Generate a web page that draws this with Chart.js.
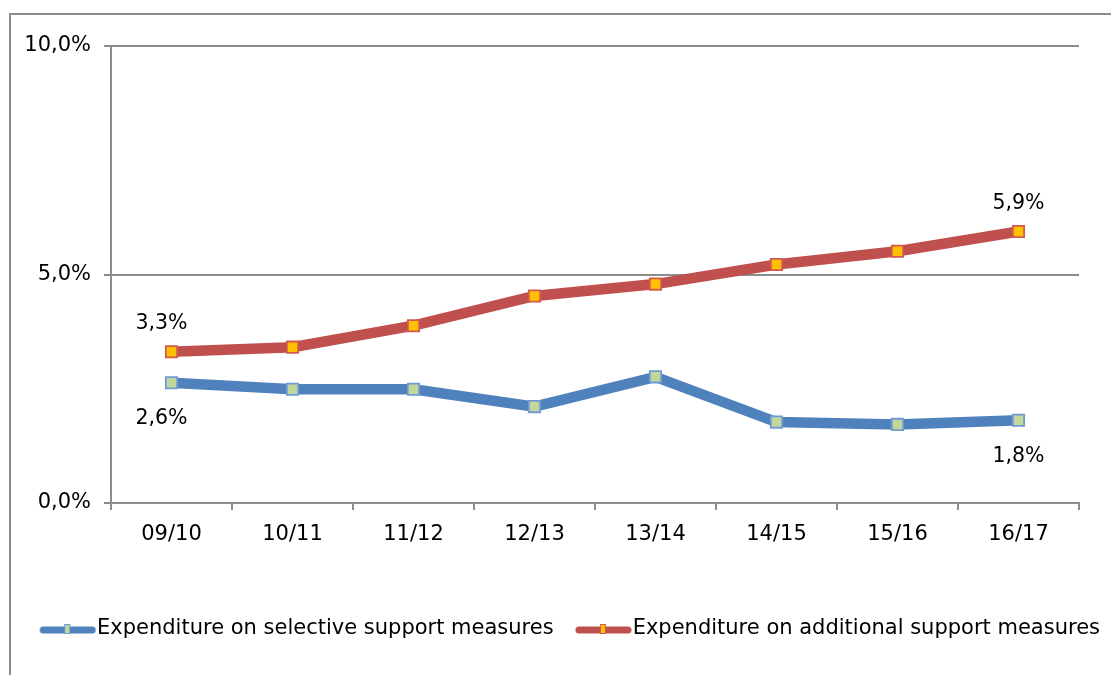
<!DOCTYPE html>
<html>
<head>
<meta charset="utf-8">
<script src="https://cdn.jsdelivr.net/npm/chart.js@4.4.0/dist/chart.umd.min.js"></script>
<style>
  html, body { margin: 0; padding: 0; background: #fff; }
  #frame {
    position: absolute; left: 9px; top: 13px; width: 1200px; height: 800px;
    border-left: 2px solid #8c8c8c; border-top: 2px solid #8c8c8c;
  }
  #wrap { position: absolute; left: 0; top: 0; width: 1111px; height: 675px; }
</style>
</head>
<body>
<div id="frame"></div>
<div id="wrap"><canvas id="chart" width="1111" height="675"></canvas></div>
<script>
const years = ["09/10", "10/11", "11/12", "12/13", "13/14", "14/15", "15/16", "16/17"];
const selective = [2.63, 2.49, 2.49, 2.11, 2.76, 1.77, 1.72, 1.81];
const additional = [3.31, 3.41, 3.88, 4.53, 4.79, 5.22, 5.51, 5.94];
const yTicks = [0, 5, 10];

const seriesNames = ["Expenditure on selective support measures", "Expenditure on additional support measures"];
const blue = "#4f81bd";
const red = "#c0504d";
const gridGray = "#8c8c8c";
const fontFamily = "'DejaVu Sans', Verdana, sans-serif";

const pct = v => v.toFixed(1).replace(".", ",") + "%";

// legend symbol: thick line with a small marker, drawn in the right part of the image
function legendIcon(lineColor, fillColor, borderColor) {
  const c = document.createElement("canvas");
  c.width = 82;
  c.height = 14;
  const g = c.getContext("2d");
  g.strokeStyle = lineColor;
  g.lineWidth = 7;
  g.lineCap = "round";
  g.beginPath();
  g.moveTo(29, 8);
  g.lineTo(78, 8);
  g.stroke();
  g.fillStyle = fillColor;
  g.strokeStyle = borderColor;
  g.lineWidth = 1;
  g.fillRect(50, 2, 6, 10);
  g.strokeRect(50.5, 2.5, 5, 9);
  return c;
}

const icons = [
  legendIcon(blue, "#c3d69b", "#6f9ad3"),
  legendIcon(red, "#ffc000", "#d2594f")
];

// value labels on first and last points
const endLabels = {
  id: "endLabels",
  afterDatasetsDraw(chart) {
    const ctx = chart.ctx;
    ctx.save();
    ctx.font = "20.5px " + fontFamily;
    ctx.fillStyle = "#000";
    ctx.textAlign = "center";
    ctx.textBaseline = "middle";
    chart.data.datasets.forEach((ds, i) => {
      const meta = chart.getDatasetMeta(i);
      const above = i === 1;
      [0, ds.data.length - 1].forEach(idx => {
        const pt = meta.data[idx];
        const dx = idx === 0 ? -10 : 0;
        const dy = above ? -28 : 36;
        ctx.fillText(pct(ds.data[idx]), pt.x + dx, pt.y + dy);
      });
    });
    ctx.restore();
  }
};

const ctx = document.getElementById("chart").getContext("2d");
new Chart(ctx, {
  type: "line",
  data: {
    labels: years,
    datasets: [
      {
        label: seriesNames[0],
        data: selective,
        borderColor: blue,
        borderWidth: 10.5,
        pointStyle: "rect",
        pointRadius: 8,
        pointBorderWidth: 1.8,
        pointBackgroundColor: "#c3d69b",
        pointBorderColor: "#6f9ad3",
        tension: 0
      },
      {
        label: seriesNames[1],
        data: additional,
        borderColor: red,
        borderWidth: 10.5,
        pointStyle: "rect",
        pointRadius: 8,
        pointBorderWidth: 1.8,
        pointBackgroundColor: "#ffc000",
        pointBorderColor: "#d2594f",
        tension: 0
      }
    ]
  },
  options: {
    responsive: false,
    animation: false,
    events: [],
    layout: { padding: { top: 46, right: 0, bottom: 25.5, left: 18 } },
    plugins: {
      tooltip: { enabled: false },
      legend: {
        position: "bottom",
        align: "start",
        labels: {
          usePointStyle: true,
          pointStyleWidth: 62.5,
          padding: 6,
          color: "#000",
          font: { family: fontFamily, size: 21 },
          generateLabels: chart => chart.data.datasets.map((ds, i) => ({
            text: ds.label,
            pointStyle: icons[i],
            fillStyle: "transparent",
            strokeStyle: "transparent",
            lineWidth: 0,
            datasetIndex: i
          }))
        }
      }
    },
    scales: {
      x: {
        offset: true,
        afterFit: axis => { axis.height = 109.5; },
        grid: {
          offset: true,
          drawOnChartArea: false,
          drawTicks: true,
          tickLength: 7,
          color: gridGray,
          lineWidth: 2
        },
        border: { display: true, color: gridGray, width: 2 },
        ticks: {
          color: "#000",
          padding: 12,
          maxRotation: 0,
          font: { family: fontFamily, size: 21 }
        }
      },
      y: {
        min: 0,
        max: 10,
        afterFit: axis => { axis.width = 93; },
        afterBuildTicks: axis => { axis.ticks = yTicks.map(v => ({ value: v })); },
        grid: {
          color: gridGray,
          lineWidth: 2,
          drawTicks: true,
          tickLength: 7
        },
        border: { display: true, color: gridGray, width: 2 },
        ticks: {
          color: "#000",
          padding: 13,
          font: { family: fontFamily, size: 21 },
          callback: v => pct(v)
        }
      },
      // empty right margin so the legend can use the full width
      gap: {
        position: "right",
        afterFit: axis => { axis.width = 32; },
        grid: { display: false },
        border: { display: false },
        ticks: { display: false }
      }
    }
  },
  plugins: [endLabels]
});
</script>
</body>
</html>
